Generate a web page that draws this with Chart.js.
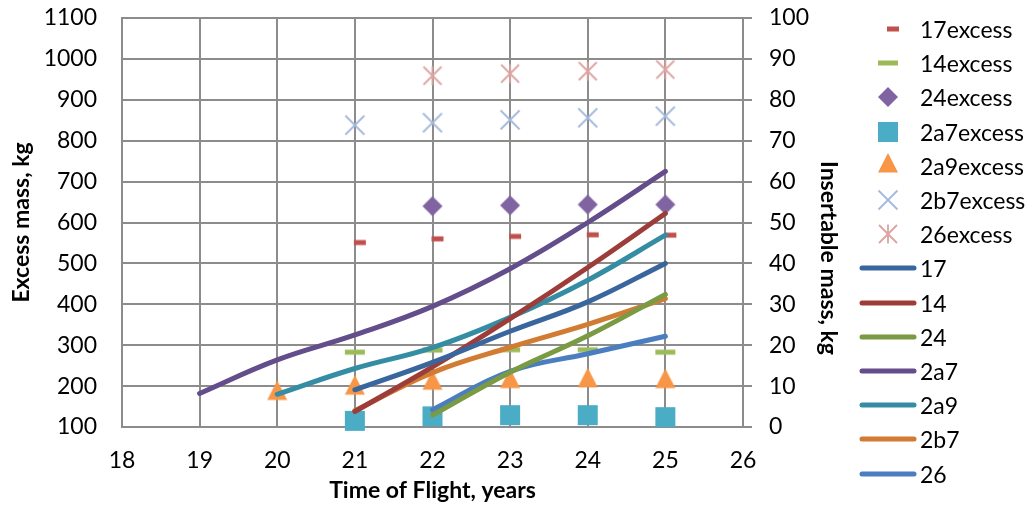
<!DOCTYPE html>
<html>
<head>
<meta charset="utf-8">
<title>Excess and insertable mass vs time of flight</title>
<script src="https://cdn.jsdelivr.net/npm/chart.js@4.4.1/dist/chart.umd.min.js"></script>
<style>
  body { margin: 0; background: #fff; }
  .wrap { position: relative; width: 1034px; height: 506px; font-family: Lato, "Open Sans", sans-serif; }
  .legend { position: absolute; left: 0; top: 0; }
  .legend__row { position: absolute; left: 858px; height: 34px; display: flex; align-items: center; }
  .legend__row span { font-size: 23px; color: #000; margin-left: 2px; line-height: 34px; }
  .y1-title {
    position: absolute; left: 829px; top: 258px; transform: translate(-50%, -50%);
    writing-mode: vertical-rl; font-weight: bold; font-size: 23px; line-height: 1; white-space: nowrap;
  }
</style>
</head>
<body>
<div class="wrap">
  <canvas id="massChart" width="1034" height="506"></canvas>
  <div class="y1-title">Insertable mass, kg</div>
  <div class="legend" id="legend"></div>
</div>
<script>
//////// Data ////////
const tofYears = [19, 20, 21, 22, 23, 24, 25];

// excess mass markers (left axis, kg)
const excessNames = ["17excess", "14excess", "24excess", "2a7excess", "2a9excess", "2b7excess", "26excess"];
const excess17 = [null, null, 551, 560, 566, 570, 569];
const excess14 = [null, null, 283, 288, 289, 289, 283];
const excess24 = [null, null, null, 640, 642, 644, 644];
const excess2a7 = [null, null, 115, 126, 129, 129, 124];
const excess2a9 = [null, 182, 195, 207, 211, 213, 211];
const excess2b7 = [null, null, 838, 844, 851, 856, 860];
const excess26 = [null, null, null, 959, 964, 970, 974];

// insertable mass lines (right axis, kg)
const lineNames = ["17", "14", "24", "2a7", "2a9", "2b7", "26"];
const insert17 = [null, null, 9.1, 15.8, 23.4, 30.6, 40.0];
const insert14 = [null, null, 3.8, 14.7, 26.5, 39.0, 52.2];
const insert24 = [null, null, null, 2.9, 13.4, 22.3, 32.4];
const insert2a7 = [8.2, 16.4, 22.5, 29.5, 38.7, 50.0, 62.5];
const insert2a9 = [null, 8.0, 14.3, 19.4, 26.8, 35.9, 46.9];
const insert2b7 = [null, null, 4.0, 13.3, 19.5, 25.1, 31.4];
const insert26 = [null, null, null, 4.2, 13.6, 17.9, 22.2];

const xTicks = [18, 19, 20, 21, 22, 23, 24, 25, 26];

//////// Styles ////////
const excessValues = [excess17, excess14, excess24, excess2a7, excess2a9, excess2b7, excess26];
const excessMarks = ["shortDash", "dash", "diamond", "square", "triangle", "cross", "star"];
const excessColors = ["#C0504D", "#9BBB59", "#8064A2", "#4BACC6", "#F79646", "#A3B9DB", "#DBA3A1"];

const lineValues = [insert17, insert14, insert24, insert2a7, insert2a9, insert2b7, insert26];
const lineColors = ["#3A669E", "#9D3D3A", "#7A9A43", "#634D8A", "#358DA3", "#D27B32", "#4A7EC0"];

const gridColor = "#8C8C8C";

const toPoints = (vals) =>
  tofYears.map((x, i) => ({ x: x, y: vals[i] })).filter((p) => p.y !== null);

const drawMark = function (g, kind, color, cx, cy) {
  g.save();
  g.translate(cx, cy);
  g.fillStyle = color;
  g.strokeStyle = color;
  g.beginPath();
  switch (kind) {
    case "shortDash":
      g.fillRect(-1, -2.5, 12, 5);
      break;
    case "dash":
      g.fillRect(-10, -2.5, 20, 5);
      break;
    case "diamond":
      g.moveTo(0, -10); g.lineTo(10, 0); g.lineTo(0, 10); g.lineTo(-10, 0);
      g.closePath(); g.fill();
      break;
    case "square":
      g.fillRect(-10, -10, 20, 20);
      break;
    case "triangle":
      g.moveTo(0, -13); g.lineTo(10, 6.5); g.lineTo(-10, 6.5);
      g.closePath(); g.fill();
      break;
    case "cross":
      g.lineWidth = 1.8;
      g.moveTo(-9.5, -9.5); g.lineTo(9.5, 9.5);
      g.moveTo(9.5, -9.5); g.lineTo(-9.5, 9.5);
      g.stroke();
      break;
    case "star":
      g.lineWidth = 1.8;
      g.moveTo(-9, -9); g.lineTo(9, 9);
      g.moveTo(9, -9); g.lineTo(-9, 9);
      g.moveTo(0, -9.5); g.lineTo(0, 9.5);
      g.stroke();
      break;
    case "line":
      g.lineWidth = 5;
      g.lineCap = "round";
      g.moveTo(-26, 0); g.lineTo(26, 0);
      g.stroke();
      break;
  }
  g.restore();
};

const makeMarkImage = function (kind, color) {
  const c = document.createElement("canvas");
  c.width = 30;
  c.height = 30;
  drawMark(c.getContext("2d"), kind, color, 15, 15);
  return c;
};

//////// Datasets ////////
const markerSets = excessNames.map((name, i) => ({
  label: name,
  data: toPoints(excessValues[i]),
  yAxisID: "y",
  showLine: false,
  pointStyle: makeMarkImage(excessMarks[i], excessColors[i]),
  pointRadius: 10,
  borderColor: excessColors[i],
  backgroundColor: excessColors[i],
  order: 1,
  clip: false,
}));

const lineSets = lineNames.map((name, i) => ({
  label: name,
  data: toPoints(lineValues[i]),
  yAxisID: "y1",
  borderColor: lineColors[i],
  backgroundColor: lineColors[i],
  borderWidth: 5,
  borderCapStyle: "round",
  tension: 0.4,
  pointRadius: 0,
  order: 0,
  clip: false,
}));

const tickFont = { family: "Lato", size: 23 };
const titleFont = { family: "Lato", size: 23, weight: "bold" };

// fix the plot box so it sits where the original one does
const fitVertical = (width) => (scale) => {
  scale.width = width;
  scale.paddingTop = 0;
  scale.paddingBottom = 0;
};

const ctx = document.getElementById("massChart");
const massChart = new Chart(ctx, {
  type: "line",
  data: { datasets: [...markerSets, ...lineSets] },
  options: {
    responsive: false,
    animation: false,
    devicePixelRatio: 1,
    layout: { padding: { top: 18, left: 0, right: 0, bottom: 0 } },
    plugins: {
      legend: { display: false },
      tooltip: { enabled: false },
    },
    scales: {
      x: {
        type: "linear",
        min: xTicks[0],
        max: xTicks[xTicks.length - 1],
        afterBuildTicks: (scale) => {
          scale.ticks = xTicks.map((v) => ({ value: v }));
        },
        afterFit: (scale) => {
          scale.height = 79;
        },
        ticks: { font: tickFont, color: "#000", padding: 20 },
        grid: { color: gridColor, lineWidth: 2, drawTicks: false },
        border: { color: gridColor, width: 2 },
        title: {
          display: true,
          text: "Time of Flight, years",
          font: titleFont,
          color: "#000",
          padding: { top: 0, bottom: 2 },
        },
      },
      y: {
        position: "left",
        min: 100,
        max: 1100,
        afterFit: fitVertical(122),
        ticks: {
          stepSize: 100,
          font: tickFont,
          color: "#000",
          padding: 25,
          format: { useGrouping: false },
        },
        grid: { color: gridColor, lineWidth: 2, drawTicks: false },
        border: { color: gridColor, width: 2 },
        title: {
          display: true,
          text: "Excess mass, kg",
          font: titleFont,
          color: "#000",
          padding: { top: 8, bottom: 0 },
        },
      },
      y1: {
        position: "right",
        min: 0,
        max: 100,
        afterFit: fitVertical(291),
        ticks: { stepSize: 10, font: tickFont, color: "#000", padding: 17 },
        grid: {
          drawOnChartArea: false,
          color: gridColor,
          lineWidth: 2,
          tickLength: 9,
        },
        border: { color: gridColor, width: 2 },
      },
    },
  },
});

//////// Legend ////////
const legendEl = document.getElementById("legend");
const legendItems = [
  ...excessNames.map((name, i) => ({ name, kind: excessMarks[i], color: excessColors[i] })),
  ...lineNames.map((name, i) => ({ name, kind: "line", color: lineColors[i] })),
];

legendItems.forEach((item, i) => {
  const row = document.createElement("div");
  row.className = "legend__row";
  row.style.top = 29 + i * 34.2 - 17 + "px";
  const mark = document.createElement("canvas");
  mark.width = 60;
  mark.height = 34;
  drawMark(mark.getContext("2d"), item.kind, item.color, 30, 17);
  const text = document.createElement("span");
  text.textContent = item.name;
  row.appendChild(mark);
  row.appendChild(text);
  legendEl.appendChild(row);
});
</script>
</body>
</html>
